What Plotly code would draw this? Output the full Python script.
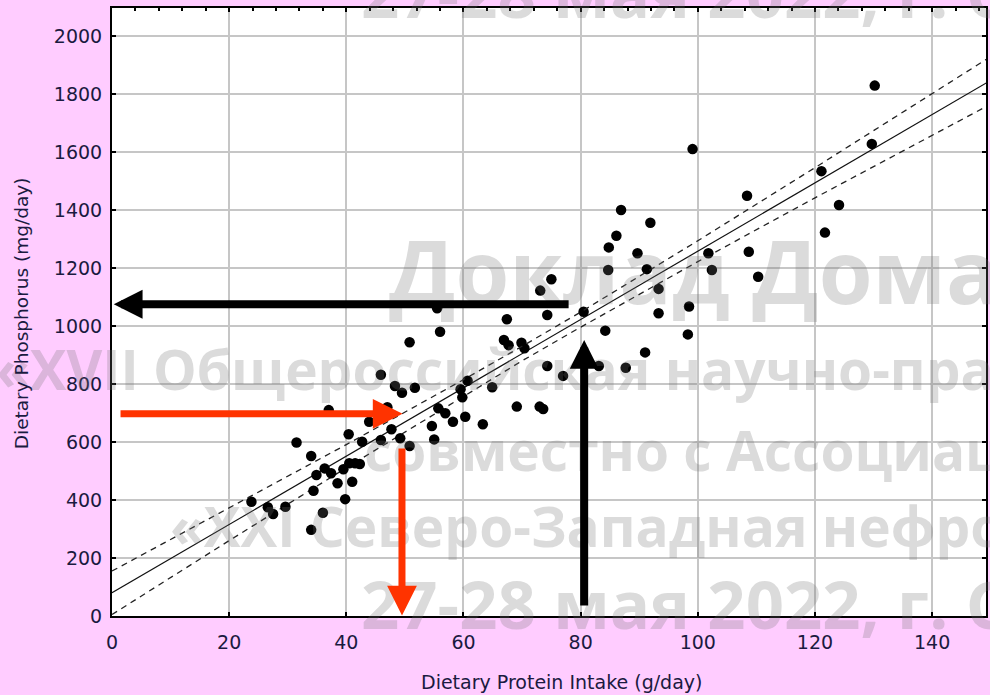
import plotly.graph_objects as go

# ---- data ----
protein = [55.5, 56.0, 50.8, 45.9, 48.3, 49.5, 51.7, 37.0, 47.0, 43.9, 47.7, 40.4, 42.7, 45.9,
           49.2, 50.8, 55.7, 56.9, 54.6, 55.0, 58.2, 31.5, 34.0, 34.9, 36.3, 37.4, 39.5, 40.5,
           41.5, 42.3, 38.5, 41.0, 34.4, 39.8, 23.8, 26.6, 27.5, 29.6, 36.0, 34.0,
           86.9, 91.9, 86.1, 84.8, 89.7, 84.7, 91.3, 93.3, 93.3, 75.0, 73.1, 74.3, 67.4, 80.5,
           84.2, 66.9, 67.7, 69.9, 70.4, 91.0, 74.3, 77.0, 83.1, 87.7, 60.7, 59.5, 59.8, 64.9,
           69.1, 73.0, 73.6, 60.3, 63.3,
           130.2, 99.1, 129.7, 121.1, 108.4, 124.1, 121.7, 101.8, 108.7, 102.4, 110.3, 98.5, 98.3]
phosphorus = [1061, 980, 944, 832, 793, 770, 787, 710, 720, 670, 644, 627, 601, 607,
              613, 586, 716, 699, 655, 609, 670, 598, 552, 486, 509, 492, 506, 527,
              527, 524, 458, 463, 432, 403, 394, 375, 352, 377, 356, 297,
              1400, 1356, 1311, 1271, 1251, 1193, 1196, 1128, 1044, 1161, 1122, 1038, 1023, 1049,
              984, 952, 934, 942, 923, 909, 862, 828, 862, 856, 811, 782, 754, 789,
              722, 722, 714, 687, 661,
              1829, 1610, 1628, 1534, 1449, 1417, 1322, 1251, 1256, 1193, 1170, 1067, 971]

reg_x = [0, 150]
reg_y = [80, 1847]

band_x = [0, 20, 40, 60, 70, 80, 100, 120, 140, 150]
band_upper = [155, 372, 591, 815, 930, 1048, 1294, 1546, 1800, 1929]
band_lower = [5, 260, 511, 759, 880, 996, 1222, 1442, 1658, 1765]

x_ticks = [0, 20, 40, 60, 80, 100, 120, 140]
y_ticks = [0, 200, 400, 600, 800, 1000, 1200, 1400, 1600, 1800, 2000]

# arrows: (tail_x, tail_y, head_x, head_y)
black_h = (78.2, 1075, 0.3, 1075)
black_v = (80.6, 31, 80.6, 952)
red_h = (1.2, 697, 49.6, 697)
red_v = (49.5, 583, 49.5, 2)

watermarks = [
    "27-28 мая 2022, г. Санкт-Петербург",
    "Доклад Домаш",
    "«XVII Общероссийская научно-практическая",
    "совместно с Ассоциацией",
    "«XXI Северо-Западная нефрологическая школа»",
    "27-28 мая 2022, г. Санкт-Петербург",
]

# ---- layout geometry (pixels) ----
W, H = 990, 695
L, R, T, B = 112, 988.5, 8, 616
def px_x(p):
    return (p - L) / (R - L)
def px_y(p):
    return (B - p) / (B - T)

PINK = "#FFCCFF"
TXT = "#1a1a40"
FONT = "DejaVu Sans"

fig = go.Figure()
fig.add_trace(go.Scatter(x=band_x, y=band_upper, mode="lines", xaxis="x2",
                         line=dict(color="#222", width=1.3, dash="6px,5px"), hoverinfo="skip"))
fig.add_trace(go.Scatter(x=band_x, y=band_lower, mode="lines",
                         line=dict(color="#222", width=1.3, dash="6px,5px"), hoverinfo="skip"))
fig.add_trace(go.Scatter(x=reg_x, y=reg_y, mode="lines",
                         line=dict(color="#111", width=1.2), hoverinfo="skip"))
fig.add_trace(go.Scatter(x=protein, y=phosphorus, mode="markers",
                         marker=dict(color="black", size=10.5)))

annotations = []
wm_pos = [(360, -8, 67), (388, 270, 87), (-6, 368, 55), (363, 449, 55), (168, 525, 55), (360, 603, 67)]
for text, (xp, yp, fs) in zip(watermarks, wm_pos):
    annotations.append(dict(text=text, x=px_x(xp), y=px_y(yp), xref="paper", yref="paper",
                            xanchor="left", yanchor="middle", showarrow=False,
                            font=dict(family="Open Sans", size=fs, color="rgba(110,110,110,0.25)",
                                      weight="bold")))

for (tx, ty, hx, hy), col, w, sz in [(black_h, "black", 8, 0.72), (black_v, "black", 8, 0.72),
                                     (red_h, "#FF3300", 7, 0.85), (red_v, "#FF3300", 7, 0.85)]:
    annotations.append(dict(x=hx, y=hy, ax=tx, ay=ty, xref="x", yref="y", axref="x", ayref="y",
                            text="", showarrow=True, arrowhead=2, arrowsize=sz, arrowwidth=w,
                            arrowcolor=col, standoff=0, startstandoff=0))

annotations.append(dict(text="Dietary Protein Intake (g/day)", x=px_x(563), y=px_y(682),
                        xref="paper", yref="paper", showarrow=False, xanchor="center", yanchor="middle",
                        font=dict(family=FONT, size=19, color=TXT)))
annotations.append(dict(text="Dietary Phosphorus (mg/day)", x=px_x(21), y=px_y(313),
                        xref="paper", yref="paper", showarrow=False, xanchor="center", yanchor="middle",
                        textangle=-90, font=dict(family=FONT, size=18.5, color=TXT)))

fig.update_layout(
    width=W, height=H,
    margin=dict(l=L, r=W - R, t=T, b=H - B, pad=0),
    paper_bgcolor=PINK, plot_bgcolor="white",
    showlegend=False,
    annotations=annotations,
    xaxis=dict(range=[0, (R - L) / 5.875], tickvals=x_ticks, showgrid=True, gridcolor="#c6c6c6",
               gridwidth=1.5, zeroline=False, showline=True, linecolor="black", linewidth=2,
               mirror=True, ticks="inside", ticklen=4, tickwidth=2, tickcolor="black",
               tickfont=dict(family=FONT, size=19, color=TXT), ticklabelstandoff=8),
    xaxis2=dict(overlaying="x", side="top", matches="x", showgrid=False, zeroline=False,
                showticklabels=False, showline=False, tick0=0, dtick=20, ticks="inside",
                ticklen=4, tickwidth=2, tickcolor="black",
                minor=dict(dtick=4, ticks="inside", ticklen=2.5, tickwidth=1.5,
                           tickcolor="black", showgrid=False)),
    yaxis=dict(range=[0, (B - T) / 0.29], tickvals=y_ticks, showgrid=True, gridcolor="#c6c6c6",
               gridwidth=1.5, zeroline=False, showline=True, linecolor="black", linewidth=2,
               mirror="ticks", ticks="inside", ticklen=4, tickwidth=2, tickcolor="black",
               tickfont=dict(family=FONT, size=19, color=TXT), ticklabelstandoff=4),
)

fig.write_html("out.html", config={"displayModeBar": False},
               post_script="document.body.style.margin='0';document.body.style.overflow='hidden';")
